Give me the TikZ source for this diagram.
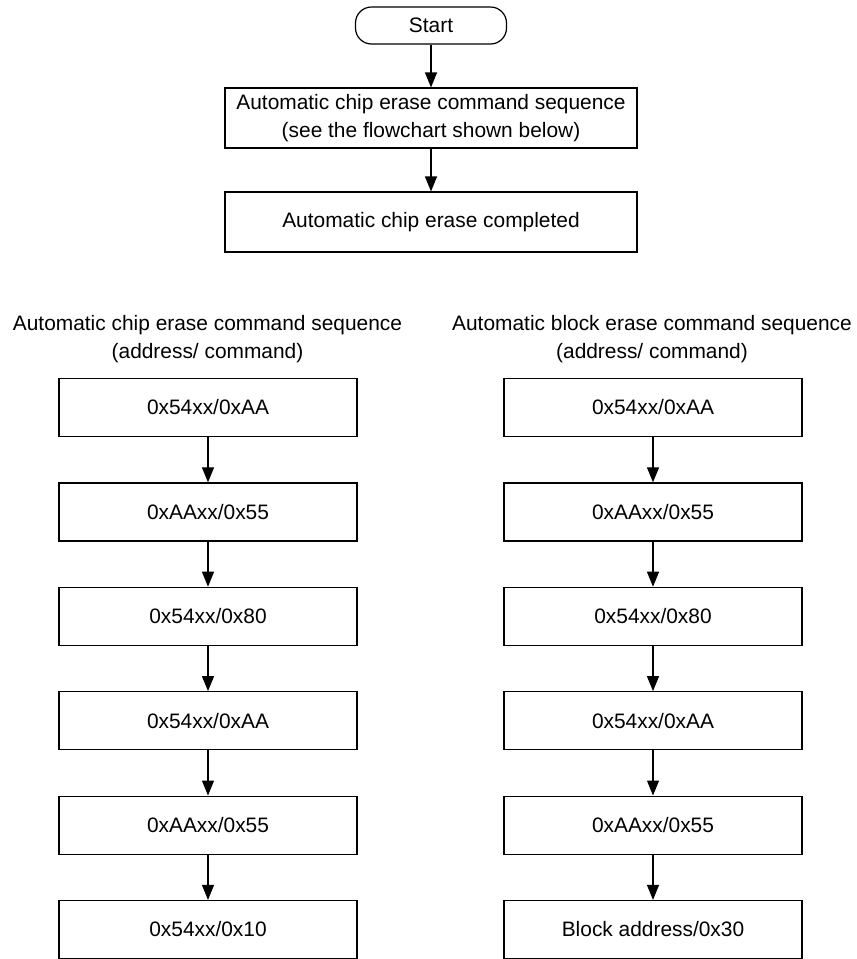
\documentclass[tikz,border=0pt]{standalone}
\usepackage{fontspec}
\setmainfont{Liberation Sans}
\usetikzlibrary{arrows.meta}
\begin{document}
\begin{tikzpicture}[x=1pt,y=-1pt,
  box/.style={draw,line width=1.2pt,minimum width=298pt,minimum height=58pt,inner sep=0pt,align=center,font=\fontsize{20.9}{28.5}\selectfont},
  wide/.style={box,minimum width=412pt,minimum height=60pt},
  term/.style={draw,line width=1.2pt,rounded corners=16pt,minimum width=151pt,minimum height=37pt,inner sep=0pt,font=\fontsize{20.9}{28.5}\selectfont},
  title/.style={align=center,inner sep=0pt,font=\fontsize{20.9}{28}\selectfont},
  arr/.style={line width=1.2pt,-{Triangle[length=15pt,width=12pt]}}]
\useasboundingbox (0,0) rectangle (857,959);
\node[term] (start) at (431,25.5) {Start};
\node[wide] (seq) at (431,118) {Automatic chip erase command sequence\\(see the flowchart shown below)};
\node[wide] (done) at (431,222) {Automatic chip erase completed};
\draw[arr] (start) -- (seq);
\draw[arr] (seq) -- (done);
% left column
\node[title] (ltitle) at (207.5,339) {Automatic chip erase command sequence\\(address/ command)};
\node[box] (l1) at (208,407.5) {0x54xx/0xAA};
\node[box] (l2) at (208,511.9) {0xAAxx/0x55};
\node[box] (l3) at (208,616.3) {0x54xx/0x80};
\node[box] (l4) at (208,720.7) {0x54xx/0xAA};
\node[box] (l5) at (208,825.1) {0xAAxx/0x55};
\node[box] (l6) at (208,929.5) {0x54xx/0x10};
% right column
\node[title] (rtitle) at (652,339) {Automatic block erase command sequence\\(address/ command)};
\node[box] (r1) at (653,407.5) {0x54xx/0xAA};
\node[box] (r2) at (653,511.9) {0xAAxx/0x55};
\node[box] (r3) at (653,616.3) {0x54xx/0x80};
\node[box] (r4) at (653,720.7) {0x54xx/0xAA};
\node[box] (r5) at (653,825.1) {0xAAxx/0x55};
\node[box] (r6) at (653,929.5) {Block address/0x30};
\foreach \a/\b in {1/2,2/3,3/4,4/5,5/6}{
  \draw[arr] (l\a) -- (l\b);
  \draw[arr] (r\a) -- (r\b);
}
\end{tikzpicture}
\end{document}
